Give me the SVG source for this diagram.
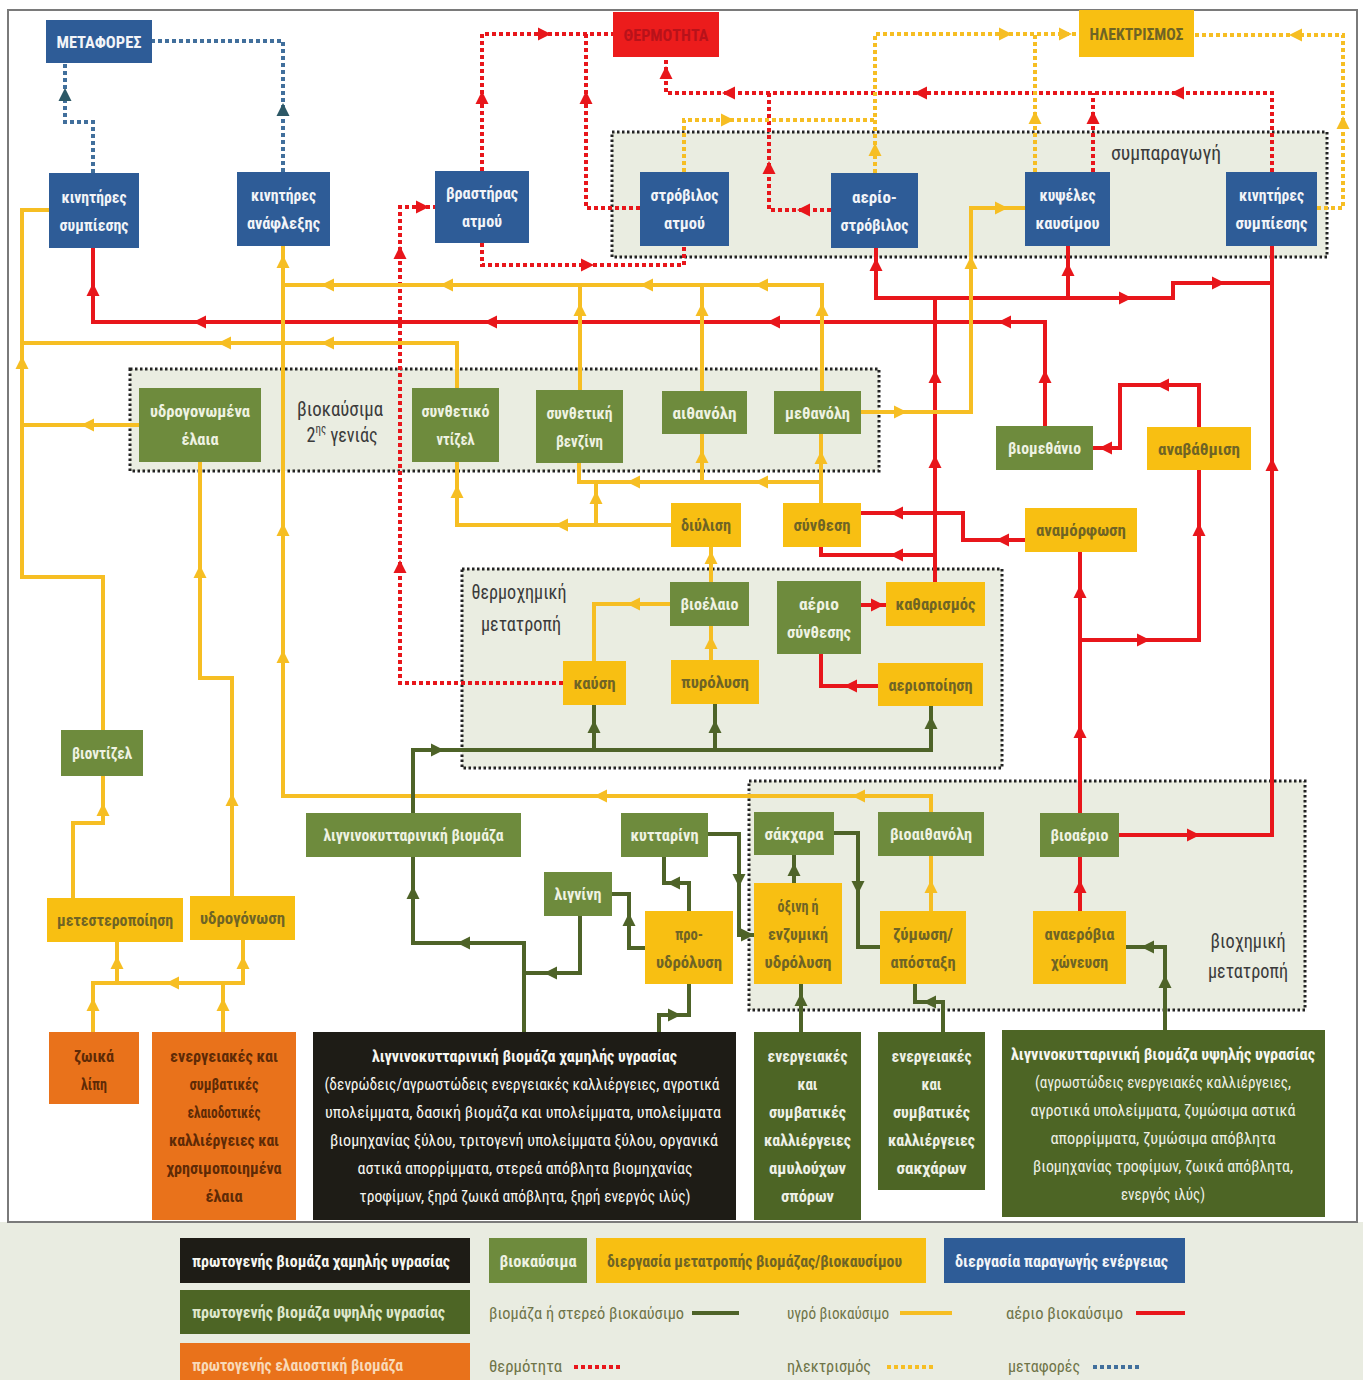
<svg xmlns="http://www.w3.org/2000/svg" xmlns:xlink="http://www.w3.org/1999/xlink" width="1363" height="1380" viewBox="0 0 1363 1380">
<defs>
<style>
text{font-family:"Liberation Sans Narrow","Roboto Condensed","DejaVu Sans Condensed","Liberation Sans",sans-serif;font-size:17px;text-anchor:middle;font-weight:bold}
.st{text-anchor:start}
.nb{fill:#2e5c97}.ny{fill:#f8bf12}.ng{fill:#6e8b3d}.nr{fill:#ec1c1c}.no{fill:#e9721b}.nk{fill:#1e1c16}.nd{fill:#4d6525}
.tb{fill:#f2f4f8}.tg{fill:#eef2e2}.ty{fill:#6f6425}.tr{fill:#b8121a}.to{fill:#5e2a06}.tw{fill:#f6f6f0}.tl{fill:#3b3b3b;font-weight:normal;font-size:20px}
.tk{fill:#f6f6f0;font-weight:normal}.tdg{fill:#eef0e6;font-weight:normal}.tdb{fill:#eef0e6;font-weight:bold}
.tleg{fill:#6f7448;font-weight:normal}
.grp{fill:#eaede1;stroke:#222;stroke-width:3;stroke-dasharray:2.5 2.5}
.r{stroke:#e8161b;stroke-width:4;fill:none}
.y{stroke:#f6be23;stroke-width:4;fill:none}
.g{stroke:#4e6328;stroke-width:4;fill:none}
.rd{stroke:#e8161b;stroke-width:4;fill:none;stroke-dasharray:4 3}
.yd{stroke:#f6be23;stroke-width:4;fill:none;stroke-dasharray:4 3}
.bd{stroke:#416f9c;stroke-width:4;fill:none;stroke-dasharray:4 3}
.fr{fill:#e8161b}.fy{fill:#f6be23}.fg{fill:#4e6328}.fb{fill:#2c5866}
</style>
<path id="a" d="M7,0 L-6,-6.5 L-6,6.5 Z"/>
</defs>

<rect x="0" y="0" width="1363" height="1380" fill="#ffffff"/>
<rect x="0" y="1222" width="1363" height="158" fill="#e9ece1"/>
<rect x="8" y="10" width="1349" height="1212" fill="#ffffff" stroke="#7a7a7a" stroke-width="2"/>

<g id="groups">
<g id="g-sympar"><rect class="grp" x="612" y="132" width="715" height="125"/><text class="tl" x="1166" y="160" textLength="110" lengthAdjust="spacingAndGlyphs">συμπαραγωγή</text></g>
<g id="g-biofuel2"><rect class="grp" x="130" y="369" width="749" height="102"/><text class="tl" x="340" y="416" font-size="22" textLength="86" lengthAdjust="spacingAndGlyphs">βιοκαύσιμα</text><text class="tl" x="342" y="442" font-size="22" textLength="71" lengthAdjust="spacingAndGlyphs">2<tspan font-size="12" dy="-9">ης</tspan><tspan dy="9"> γενιάς</tspan></text></g>
<g id="g-thermo"><rect class="grp" x="462" y="569" width="540" height="199"/><text class="tl" x="519" y="599" textLength="95" lengthAdjust="spacingAndGlyphs">θερμοχημική</text><text class="tl" x="521" y="631" textLength="80" lengthAdjust="spacingAndGlyphs">μετατροπή</text></g>
<g id="g-bio"><rect class="grp" x="749" y="781" width="556" height="229"/><text class="tl" x="1248" y="948" textLength="75" lengthAdjust="spacingAndGlyphs">βιοχημική</text><text class="tl" x="1248" y="978" textLength="80" lengthAdjust="spacingAndGlyphs">μετατροπή</text></g>
</g>

<g id="connectors">
<path class="bd" d="M283,172 V41 H152"/>
<path class="bd" d="M93,173 V122 H65 V63"/>
<path class="rd" d="M482,171 V34 H613"/>
<path class="rd" d="M640,208 H586 V34"/>
<path class="rd" d="M482,243 V265 H684 V246"/>
<path class="rd" d="M1272,172 V93 H666 V57"/>
<path class="rd" d="M1093,172 V93"/>
<path class="rd" d="M831,210 H769 V93"/>
<path class="rd" d="M563,683 H400 V207 H435"/>
<path class="yd" d="M875,173 V34 H1079"/>
<path class="yd" d="M1035,172 V34"/>
<path class="yd" d="M684,172 V120 H875"/>
<path class="yd" d="M1317,208 H1343 V35 H1194"/>
<path class="r" d="M935,582 V298 H876 V248"/>
<path class="r" d="M935,298 H1173 V283 H1272"/>
<path class="r" d="M1068,298 V246"/>
<path class="r" d="M1045,426 V322 H93 V248"/>
<path class="r" d="M1080,813 V552"/>
<path class="r" d="M1080,640 H1199 V470"/>
<path class="r" d="M1199,427 V385 H1120 V448 H1093"/>
<path class="r" d="M1025,540 H963 V513 H861"/>
<path class="r" d="M935,555 H821 V547"/>
<path class="r" d="M861,605 H886"/>
<path class="r" d="M878,686 H821 V654"/>
<path class="r" d="M1080,911 V857"/>
<path class="r" d="M1119,835 H1272 V246"/>
<path class="y" d="M822,391 V285 H283"/>
<path class="y" d="M580,390 V285"/>
<path class="y" d="M702,391 V285"/>
<path class="y" d="M283,246 V796 H931 V812"/>
<path class="y" d="M457,388 V343 H22"/>
<path class="y" d="M49,210 H22 V577 H103 V730"/>
<path class="y" d="M139,425 H22"/>
<path class="y" d="M200,462 V678 H232 V896"/>
<path class="y" d="M73,898 V823 H103 V776"/>
<path class="y" d="M93,1032 V983 H243 V940"/>
<path class="y" d="M117,983 V942"/>
<path class="y" d="M223,1032 V983"/>
<path class="y" d="M861,412 H971 V208 H1025"/>
<path class="y" d="M821,503 V434"/>
<path class="y" d="M821,482 H579 V463"/>
<path class="y" d="M596,525 V482"/>
<path class="y" d="M702,482 V434"/>
<path class="y" d="M671,525 H457 V462"/>
<path class="y" d="M711,582 V547"/>
<path class="y" d="M670,604 H594 V661"/>
<path class="y" d="M711,660 V626"/>
<path class="y" d="M931,911 V856"/>
<path class="g" d="M524,1032 V943 H413 V750 H931 V706"/>
<path class="g" d="M594,750 V705"/>
<path class="g" d="M715,750 V704"/>
<path class="g" d="M580,916 V973 H524"/>
<path class="g" d="M645,948 H629 V894 H612"/>
<path class="g" d="M689,911 V883 H664 V857"/>
<path class="g" d="M708,834 H739 V935 H754"/>
<path class="g" d="M794,883 V855"/>
<path class="g" d="M834,833 H858 V947 H880"/>
<path class="g" d="M801,1032 V984"/>
<path class="g" d="M943,1032 V1002 H915 V984"/>
<path class="g" d="M1165,1030 V947 H1126"/>
<path class="g" d="M659,1032 V1015 H689 V984"/>

<use href="#a" class="fb" transform="translate(283,110) rotate(-90)"/>
<use href="#a" class="fb" transform="translate(65,95) rotate(-90)"/>
<use href="#a" class="fr" transform="translate(482,98) rotate(-90)"/>
<use href="#a" class="fr" transform="translate(544,34)"/>
<use href="#a" class="fr" transform="translate(586,98) rotate(-90)"/>
<use href="#a" class="fr" transform="translate(587,265)"/>
<use href="#a" class="fr" transform="translate(1178,93) rotate(180)"/>
<use href="#a" class="fr" transform="translate(921,93) rotate(180)"/>
<use href="#a" class="fr" transform="translate(729,93) rotate(180)"/>
<use href="#a" class="fr" transform="translate(666,73) rotate(-90)"/>
<use href="#a" class="fr" transform="translate(1093,118) rotate(-90)"/>
<use href="#a" class="fr" transform="translate(804,210) rotate(180)"/>
<use href="#a" class="fr" transform="translate(769,168) rotate(-90)"/>
<use href="#a" class="fr" transform="translate(400,567) rotate(-90)"/>
<use href="#a" class="fr" transform="translate(400,253) rotate(-90)"/>
<use href="#a" class="fr" transform="translate(422,207)"/>
<use href="#a" class="fy" transform="translate(875,150) rotate(-90)"/>
<use href="#a" class="fy" transform="translate(1005,34)"/>
<use href="#a" class="fy" transform="translate(1065,34)"/>
<use href="#a" class="fy" transform="translate(1035,118) rotate(-90)"/>
<use href="#a" class="fy" transform="translate(727,120)"/>
<use href="#a" class="fy" transform="translate(1343,123) rotate(-90)"/>
<use href="#a" class="fy" transform="translate(1296,35) rotate(180)"/>
<use href="#a" class="fr" transform="translate(935,462) rotate(-90)"/>
<use href="#a" class="fr" transform="translate(935,377) rotate(-90)"/>
<use href="#a" class="fr" transform="translate(876,265) rotate(-90)"/>
<use href="#a" class="fr" transform="translate(1125,298)"/>
<use href="#a" class="fr" transform="translate(1218,283)"/>
<use href="#a" class="fr" transform="translate(1068,270) rotate(-90)"/>
<use href="#a" class="fr" transform="translate(1045,377) rotate(-90)"/>
<use href="#a" class="fr" transform="translate(1005,322) rotate(180)"/>
<use href="#a" class="fr" transform="translate(774,322) rotate(180)"/>
<use href="#a" class="fr" transform="translate(491,322) rotate(180)"/>
<use href="#a" class="fr" transform="translate(200,322) rotate(180)"/>
<use href="#a" class="fr" transform="translate(93,290) rotate(-90)"/>
<use href="#a" class="fr" transform="translate(1080,732) rotate(-90)"/>
<use href="#a" class="fr" transform="translate(1080,592) rotate(-90)"/>
<use href="#a" class="fr" transform="translate(1143,640)"/>
<use href="#a" class="fr" transform="translate(1199,530) rotate(-90)"/>
<use href="#a" class="fr" transform="translate(1163,385) rotate(180)"/>
<use href="#a" class="fr" transform="translate(1106,448) rotate(180)"/>
<use href="#a" class="fr" transform="translate(1003,540) rotate(180)"/>
<use href="#a" class="fr" transform="translate(897,513) rotate(180)"/>
<use href="#a" class="fr" transform="translate(897,555) rotate(180)"/>
<use href="#a" class="fr" transform="translate(877,605)"/>
<use href="#a" class="fr" transform="translate(851,686) rotate(180)"/>
<use href="#a" class="fr" transform="translate(1080,887) rotate(-90)"/>
<use href="#a" class="fr" transform="translate(1193,835)"/>
<use href="#a" class="fr" transform="translate(1272,465) rotate(-90)"/>
<use href="#a" class="fy" transform="translate(762,285) rotate(180)"/>
<use href="#a" class="fy" transform="translate(647,285) rotate(180)"/>
<use href="#a" class="fy" transform="translate(447,285) rotate(180)"/>
<use href="#a" class="fy" transform="translate(328,285) rotate(180)"/>
<use href="#a" class="fy" transform="translate(822,310) rotate(-90)"/>
<use href="#a" class="fy" transform="translate(580,310) rotate(-90)"/>
<use href="#a" class="fy" transform="translate(702,310) rotate(-90)"/>
<use href="#a" class="fy" transform="translate(283,262) rotate(-90)"/>
<use href="#a" class="fy" transform="translate(283,530) rotate(-90)"/>
<use href="#a" class="fy" transform="translate(283,657) rotate(-90)"/>
<use href="#a" class="fy" transform="translate(601,796) rotate(180)"/>
<use href="#a" class="fy" transform="translate(859,796) rotate(180)"/>
<use href="#a" class="fy" transform="translate(328,343) rotate(180)"/>
<use href="#a" class="fy" transform="translate(225,343) rotate(180)"/>
<use href="#a" class="fy" transform="translate(22,363) rotate(-90)"/>
<use href="#a" class="fy" transform="translate(88,425) rotate(180)"/>
<use href="#a" class="fy" transform="translate(200,572) rotate(-90)"/>
<use href="#a" class="fy" transform="translate(232,800) rotate(-90)"/>
<use href="#a" class="fy" transform="translate(103,810) rotate(-90)"/>
<use href="#a" class="fy" transform="translate(93,1005) rotate(-90)"/>
<use href="#a" class="fy" transform="translate(173,983) rotate(180)"/>
<use href="#a" class="fy" transform="translate(243,963) rotate(-90)"/>
<use href="#a" class="fy" transform="translate(117,963) rotate(-90)"/>
<use href="#a" class="fy" transform="translate(223,1005) rotate(-90)"/>
<use href="#a" class="fy" transform="translate(900,412)"/>
<use href="#a" class="fy" transform="translate(971,263) rotate(-90)"/>
<use href="#a" class="fy" transform="translate(1001,208)"/>
<use href="#a" class="fy" transform="translate(821,458) rotate(-90)"/>
<use href="#a" class="fy" transform="translate(762,482) rotate(180)"/>
<use href="#a" class="fy" transform="translate(634,482) rotate(180)"/>
<use href="#a" class="fy" transform="translate(596,498) rotate(-90)"/>
<use href="#a" class="fy" transform="translate(702,457) rotate(-90)"/>
<use href="#a" class="fy" transform="translate(562,525) rotate(180)"/>
<use href="#a" class="fy" transform="translate(457,492) rotate(-90)"/>
<use href="#a" class="fy" transform="translate(711,558) rotate(-90)"/>
<use href="#a" class="fy" transform="translate(634,604) rotate(180)"/>
<use href="#a" class="fy" transform="translate(711,643) rotate(-90)"/>
<use href="#a" class="fy" transform="translate(931,887) rotate(-90)"/>
<use href="#a" class="fg" transform="translate(464,943) rotate(180)"/>
<use href="#a" class="fg" transform="translate(413,893) rotate(-90)"/>
<use href="#a" class="fg" transform="translate(437,750)"/>
<use href="#a" class="fg" transform="translate(931,723) rotate(-90)"/>
<use href="#a" class="fg" transform="translate(594,727) rotate(-90)"/>
<use href="#a" class="fg" transform="translate(715,727) rotate(-90)"/>
<use href="#a" class="fg" transform="translate(551,973) rotate(180)"/>
<use href="#a" class="fg" transform="translate(629,920) rotate(-90)"/>
<use href="#a" class="fg" transform="translate(674,883) rotate(180)"/>
<use href="#a" class="fg" transform="translate(739,880) rotate(90)"/>
<use href="#a" class="fg" transform="translate(747,935)"/>
<use href="#a" class="fg" transform="translate(794,870) rotate(-90)"/>
<use href="#a" class="fg" transform="translate(858,887) rotate(90)"/>
<use href="#a" class="fg" transform="translate(801,1000) rotate(-90)"/>
<use href="#a" class="fg" transform="translate(930,1002) rotate(180)"/>
<use href="#a" class="fg" transform="translate(1165,982) rotate(-90)"/>
<use href="#a" class="fg" transform="translate(1148,947) rotate(180)"/>
<use href="#a" class="fg" transform="translate(674,1015)"/>
</g>

<g id="nodes">
<g id="n-metafores"><rect class="nb" x="46" y="20" width="106" height="43"/><text class="tb" x="99" y="48" textLength="85" lengthAdjust="spacingAndGlyphs">ΜΕΤΑΦΟΡΕΣ</text></g>
<g id="n-thermotita"><rect class="nr" x="613" y="12" width="106" height="45"/><text class="tr" x="666" y="41" textLength="85" lengthAdjust="spacingAndGlyphs">ΘΕΡΜΟΤΗΤΑ</text></g>
<g id="n-ilektrismos"><rect class="ny" x="1079" y="10" width="115" height="47"/><text class="ty" x="1136.5" y="40" textLength="94" lengthAdjust="spacingAndGlyphs">ΗΛΕΚΤΡΙΣΜΟΣ</text></g>
<g id="n-kin-symp-l"><rect class="nb" x="49" y="173" width="90" height="75"/><text class="tb" x="94" y="202.5" textLength="65" lengthAdjust="spacingAndGlyphs">κινητήρες</text><text class="tb" x="94" y="230.5" textLength="69" lengthAdjust="spacingAndGlyphs">συμπίεσης</text></g>
<g id="n-kin-anafl"><rect class="nb" x="237" y="172" width="93" height="74"/><text class="tb" x="283.5" y="201" textLength="65" lengthAdjust="spacingAndGlyphs">κινητήρες</text><text class="tb" x="283.5" y="229" textLength="73" lengthAdjust="spacingAndGlyphs">ανάφλεξης</text></g>
<g id="n-vrastiras"><rect class="nb" x="435" y="171" width="94" height="72"/><text class="tb" x="482" y="199" textLength="72" lengthAdjust="spacingAndGlyphs">βραστήρας</text><text class="tb" x="482" y="227" textLength="40" lengthAdjust="spacingAndGlyphs">ατμού</text></g>
<g id="n-strovilos"><rect class="nb" x="640" y="172" width="89" height="74"/><text class="tb" x="684.5" y="201" textLength="68" lengthAdjust="spacingAndGlyphs">στρόβιλος</text><text class="tb" x="684.5" y="229" textLength="41" lengthAdjust="spacingAndGlyphs">ατμού</text></g>
<g id="n-aerio-strovilos"><rect class="nb" x="831" y="173" width="87" height="75"/><text class="tb" x="874.5" y="202.5" textLength="45" lengthAdjust="spacingAndGlyphs">αερίο-</text><text class="tb" x="874.5" y="230.5" textLength="68" lengthAdjust="spacingAndGlyphs">στρόβιλος</text></g>
<g id="n-kypseles"><rect class="nb" x="1025" y="172" width="85" height="74"/><text class="tb" x="1067.5" y="201" textLength="56" lengthAdjust="spacingAndGlyphs">κυψέλες</text><text class="tb" x="1067.5" y="229" textLength="64" lengthAdjust="spacingAndGlyphs">καυσίμου</text></g>
<g id="n-kin-symp-r"><rect class="nb" x="1226" y="172" width="91" height="74"/><text class="tb" x="1271.5" y="201" textLength="65" lengthAdjust="spacingAndGlyphs">κινητήρες</text><text class="tb" x="1271.5" y="229" textLength="72" lengthAdjust="spacingAndGlyphs">συμπίεσης</text></g>
<g id="n-ydrogon-elaia"><rect class="ng" x="139" y="388" width="122" height="74"/><text class="tg" x="200" y="417" textLength="100" lengthAdjust="spacingAndGlyphs">υδρογονωμένα</text><text class="tg" x="200" y="445" textLength="37" lengthAdjust="spacingAndGlyphs">έλαια</text></g>
<g id="n-synth-diesel"><rect class="ng" x="412" y="388" width="87" height="74"/><text class="tg" x="455.5" y="417" textLength="68" lengthAdjust="spacingAndGlyphs">συνθετικό</text><text class="tg" x="455.5" y="445" textLength="38" lengthAdjust="spacingAndGlyphs">ντίζελ</text></g>
<g id="n-synth-venzini"><rect class="ng" x="536" y="390" width="87" height="73"/><text class="tg" x="579.5" y="418.5" textLength="66" lengthAdjust="spacingAndGlyphs">συνθετική</text><text class="tg" x="579.5" y="446.5" textLength="47" lengthAdjust="spacingAndGlyphs">βενζίνη</text></g>
<g id="n-aithanoli"><rect class="ng" x="662" y="391" width="85" height="43"/><text class="tg" x="704.5" y="418.5" textLength="64" lengthAdjust="spacingAndGlyphs">αιθανόλη</text></g>
<g id="n-methanoli"><rect class="ng" x="774" y="391" width="87" height="43"/><text class="tg" x="817.5" y="418.5" textLength="65" lengthAdjust="spacingAndGlyphs">μεθανόλη</text></g>
<g id="n-dylisi"><rect class="ny" x="671" y="503" width="70" height="44"/><text class="ty" x="706" y="531" textLength="50" lengthAdjust="spacingAndGlyphs">διύλιση</text></g>
<g id="n-synthesi"><rect class="ny" x="783" y="503" width="78" height="44"/><text class="ty" x="822" y="531" textLength="57" lengthAdjust="spacingAndGlyphs">σύνθεση</text></g>
<g id="n-vioelaio"><rect class="ng" x="670" y="582" width="79" height="44"/><text class="tg" x="709.5" y="610" textLength="58" lengthAdjust="spacingAndGlyphs">βιοέλαιο</text></g>
<g id="n-aerio-synth"><rect class="ng" x="777" y="581" width="84" height="73"/><text class="tg" x="819" y="609.5" textLength="40" lengthAdjust="spacingAndGlyphs">αέριο</text><text class="tg" x="819" y="637.5" textLength="64" lengthAdjust="spacingAndGlyphs">σύνθεσης</text></g>
<g id="n-katharismos"><rect class="ny" x="886" y="582" width="99" height="44"/><text class="ty" x="935.5" y="610" textLength="80" lengthAdjust="spacingAndGlyphs">καθαρισμός</text></g>
<g id="n-aeriopoiisi"><rect class="ny" x="878" y="663" width="105" height="43"/><text class="ty" x="930.5" y="690.5" textLength="84" lengthAdjust="spacingAndGlyphs">αεριοποίηση</text></g>
<g id="n-kafsi"><rect class="ny" x="563" y="661" width="63" height="44"/><text class="ty" x="594.5" y="689" textLength="42" lengthAdjust="spacingAndGlyphs">καύση</text></g>
<g id="n-pyrolysi"><rect class="ny" x="671" y="660" width="88" height="44"/><text class="ty" x="715" y="688" textLength="68" lengthAdjust="spacingAndGlyphs">πυρόλυση</text></g>
<g id="n-viomethanio"><rect class="ng" x="996" y="426" width="97" height="44"/><text class="tg" x="1044.5" y="454" textLength="73" lengthAdjust="spacingAndGlyphs">βιομεθάνιο</text></g>
<g id="n-anavathmisi"><rect class="ny" x="1147" y="427" width="104" height="43"/><text class="ty" x="1199" y="454.5" textLength="82" lengthAdjust="spacingAndGlyphs">αναβάθμιση</text></g>
<g id="n-anamorfosi"><rect class="ny" x="1025" y="508" width="112" height="44"/><text class="ty" x="1081" y="536" textLength="90" lengthAdjust="spacingAndGlyphs">αναμόρφωση</text></g>
<g id="n-viodiesel"><rect class="ng" x="61" y="730" width="82" height="46"/><text class="tg" x="102" y="759" textLength="60" lengthAdjust="spacingAndGlyphs">βιοντίζελ</text></g>
<g id="n-metester"><rect class="ny" x="47" y="898" width="136" height="44"/><text class="ty" x="115" y="926" textLength="116" lengthAdjust="spacingAndGlyphs">μετεστεροποίηση</text></g>
<g id="n-ydrogonosi"><rect class="ny" x="190" y="896" width="105" height="44"/><text class="ty" x="242.5" y="924" textLength="85" lengthAdjust="spacingAndGlyphs">υδρογόνωση</text></g>
<g id="n-lignocell"><rect class="ng" x="306" y="813" width="215" height="44"/><text class="tg" x="413.5" y="841" textLength="180" lengthAdjust="spacingAndGlyphs">λιγνινοκυτταρινική βιομάζα</text></g>
<g id="n-lignini"><rect class="ng" x="544" y="872" width="68" height="44"/><text class="tg" x="578" y="900" textLength="47" lengthAdjust="spacingAndGlyphs">λιγνίνη</text></g>
<g id="n-kyttarini"><rect class="ng" x="621" y="813" width="87" height="44"/><text class="tg" x="664.5" y="841" textLength="68" lengthAdjust="spacingAndGlyphs">κυτταρίνη</text></g>
<g id="n-proydrolysi"><rect class="ny" x="645" y="911" width="88" height="73"/><text class="ty" x="689" y="939.5" textLength="28" lengthAdjust="spacingAndGlyphs">προ-</text><text class="ty" x="689" y="967.5" textLength="66" lengthAdjust="spacingAndGlyphs">υδρόλυση</text></g>
<g id="n-sakchara"><rect class="ng" x="754" y="812" width="80" height="43"/><text class="tg" x="794" y="839.5" textLength="59" lengthAdjust="spacingAndGlyphs">σάκχαρα</text></g>
<g id="n-oxini"><rect class="ny" x="754" y="883" width="88" height="101"/><text class="ty" x="798" y="912" textLength="41" lengthAdjust="spacingAndGlyphs">όξινη ή</text><text class="ty" x="798" y="940" textLength="60" lengthAdjust="spacingAndGlyphs">ενζυμική</text><text class="ty" x="798" y="968" textLength="67" lengthAdjust="spacingAndGlyphs">υδρόλυση</text></g>
<g id="n-vioaithanoli"><rect class="ng" x="878" y="812" width="106" height="44"/><text class="tg" x="931" y="840" textLength="82" lengthAdjust="spacingAndGlyphs">βιοαιθανόλη</text></g>
<g id="n-zymosi"><rect class="ny" x="880" y="911" width="86" height="73"/><text class="ty" x="923" y="939.5" textLength="60" lengthAdjust="spacingAndGlyphs">ζύμωση/</text><text class="ty" x="923" y="967.5" textLength="65" lengthAdjust="spacingAndGlyphs">απόσταξη</text></g>
<g id="n-vioaerio"><rect class="ng" x="1040" y="813" width="79" height="44"/><text class="tg" x="1079.5" y="841" textLength="58" lengthAdjust="spacingAndGlyphs">βιοαέριο</text></g>
<g id="n-anaerovia"><rect class="ny" x="1033" y="911" width="93" height="73"/><text class="ty" x="1079.5" y="939.5" textLength="70" lengthAdjust="spacingAndGlyphs">αναερόβια</text><text class="ty" x="1079.5" y="967.5" textLength="57" lengthAdjust="spacingAndGlyphs">χώνευση</text></g>
<g id="n-zoika-lipi"><rect class="no" x="49" y="1032" width="90" height="72"/><text class="to" x="94" y="1062" textLength="40" lengthAdjust="spacingAndGlyphs">ζωικά</text><text class="to" x="94" y="1090" textLength="26" lengthAdjust="spacingAndGlyphs">λίπη</text></g>
<g id="n-elaiodotikes"><rect class="no" x="152" y="1032" width="144" height="188"/>
<text class="to" x="224" y="1062" textLength="108" lengthAdjust="spacingAndGlyphs">ενεργειακές και</text>
<text class="to" x="224" y="1090" textLength="69" lengthAdjust="spacingAndGlyphs">συμβατικές</text>
<text class="to" x="224" y="1118" textLength="73" lengthAdjust="spacingAndGlyphs">ελαιοδοτικές</text>
<text class="to" x="224" y="1146" textLength="110" lengthAdjust="spacingAndGlyphs">καλλιέργειες και</text>
<text class="to" x="224" y="1174" textLength="115" lengthAdjust="spacingAndGlyphs">χρησιμοποιημένα</text>
<text class="to" x="224" y="1202" textLength="37" lengthAdjust="spacingAndGlyphs">έλαια</text></g>
<g id="n-low-moisture"><rect class="nk" x="313" y="1032" width="423" height="188"/>
<text class="tw" x="524.5" y="1062" textLength="305" lengthAdjust="spacingAndGlyphs">λιγνινοκυτταρινική βιομάζα χαμηλής υγρασίας</text>
<text class="tk" x="522" y="1090" textLength="395" lengthAdjust="spacingAndGlyphs">(δενρώδεις/αγρωστώδεις ενεργειακές καλλιέργειες, αγροτικά</text>
<text class="tk" x="523" y="1118" textLength="396" lengthAdjust="spacingAndGlyphs">υπολείμματα, δασική βιομάζα και υπολείμματα, υπολείμματα</text>
<text class="tk" x="524" y="1146" textLength="388" lengthAdjust="spacingAndGlyphs">βιομηχανίας ξύλου, τριτογενή υπολείμματα ξύλου, οργανικά</text>
<text class="tk" x="525" y="1174" textLength="335" lengthAdjust="spacingAndGlyphs">αστικά απορρίμματα, στερεά απόβλητα βιομηχανίας</text>
<text class="tk" x="525" y="1202" textLength="331" lengthAdjust="spacingAndGlyphs">τροφίμων, ξηρά ζωικά απόβλητα, ξηρή ενεργός ιλύς)</text></g>
<g id="n-amyloucha"><rect class="nd" x="754" y="1032" width="107" height="188"/>
<text class="tdb" x="807.5" y="1062" textLength="80" lengthAdjust="spacingAndGlyphs">ενεργειακές</text>
<text class="tdb" x="807.5" y="1090" textLength="20" lengthAdjust="spacingAndGlyphs">και</text>
<text class="tdb" x="807.5" y="1118" textLength="77" lengthAdjust="spacingAndGlyphs">συμβατικές</text>
<text class="tdb" x="807.5" y="1146" textLength="87" lengthAdjust="spacingAndGlyphs">καλλιέργειες</text>
<text class="tdb" x="807.5" y="1174" textLength="77" lengthAdjust="spacingAndGlyphs">αμυλούχων</text>
<text class="tdb" x="807.5" y="1202" textLength="53" lengthAdjust="spacingAndGlyphs">σπόρων</text></g>
<g id="n-sakcharon"><rect class="nd" x="878" y="1032" width="107" height="158"/>
<text class="tdb" x="931.5" y="1062" textLength="80" lengthAdjust="spacingAndGlyphs">ενεργειακές</text>
<text class="tdb" x="931.5" y="1090" textLength="20" lengthAdjust="spacingAndGlyphs">και</text>
<text class="tdb" x="931.5" y="1118" textLength="77" lengthAdjust="spacingAndGlyphs">συμβατικές</text>
<text class="tdb" x="931.5" y="1146" textLength="87" lengthAdjust="spacingAndGlyphs">καλλιέργειες</text>
<text class="tdb" x="931.5" y="1174" textLength="70" lengthAdjust="spacingAndGlyphs">σακχάρων</text></g>
<g id="n-high-moisture"><rect class="nd" x="1002" y="1030" width="323" height="187"/>
<text class="tw" x="1163" y="1060" textLength="304" lengthAdjust="spacingAndGlyphs">λιγνινοκυτταρινική βιομάζα υψηλής υγρασίας</text>
<text class="tdg" x="1163" y="1088" textLength="256" lengthAdjust="spacingAndGlyphs">(αγρωστώδεις ενεργειακές καλλιέργειες,</text>
<text class="tdg" x="1163" y="1116" textLength="265" lengthAdjust="spacingAndGlyphs">αγροτικά υπολείμματα, ζυμώσιμα αστικά</text>
<text class="tdg" x="1163" y="1144" textLength="225" lengthAdjust="spacingAndGlyphs">απορρίμματα, ζυμώσιμα απόβλητα</text>
<text class="tdg" x="1163" y="1172" textLength="260" lengthAdjust="spacingAndGlyphs">βιομηχανίας τροφίμων, ζωικά απόβλητα,</text>
<text class="tdg" x="1163" y="1200" textLength="84" lengthAdjust="spacingAndGlyphs">ενεργός ιλύς)</text></g>
</g>

<g id="legend">
<rect class="nk" x="180" y="1238" width="290" height="45"/>
<text class="tw st" x="192" y="1267" textLength="258" lengthAdjust="spacingAndGlyphs">πρωτογενής βιομάζα χαμηλής υγρασίας</text>
<rect class="nd" x="180" y="1290" width="290" height="44"/>
<text class="st" x="192" y="1318" fill="#dfe7cc" textLength="253" lengthAdjust="spacingAndGlyphs">πρωτογενής βιομάζα υψηλής υγρασίας</text>
<rect class="no" x="180" y="1343" width="290" height="37"/>
<text class="st" x="192" y="1371" fill="#f8d9b8" textLength="211" lengthAdjust="spacingAndGlyphs">πρωτογενής ελαιοστική  βιομάζα</text>
<rect class="ng" x="489" y="1238" width="98" height="45"/>
<text class="tg" x="538" y="1267" textLength="77" lengthAdjust="spacingAndGlyphs">βιοκαύσιμα</text>
<rect class="ny" x="596" y="1238" width="330" height="45"/>
<text class="ty st" x="607" y="1267" textLength="295" lengthAdjust="spacingAndGlyphs">διεργασία μετατροπής βιομάζας/βιοκαυσίμου</text>
<rect class="nb" x="944" y="1238" width="241" height="45"/>
<text class="tb st" x="955" y="1267" textLength="213" lengthAdjust="spacingAndGlyphs">διεργασία παραγωγής ενέργειας</text>
<text class="tleg st" x="489" y="1319" textLength="195" lengthAdjust="spacingAndGlyphs">βιομάζα ή στερεό βιοκαύσιμο</text>
<path class="g" d="M692,1313 H739" stroke-width="5"/>
<text class="tleg st" x="787" y="1319" textLength="102" lengthAdjust="spacingAndGlyphs">υγρό βιοκαύσιμο</text>
<path class="y" d="M900,1313 H952" stroke-width="5"/>
<text class="tleg st" x="1006" y="1319" textLength="117" lengthAdjust="spacingAndGlyphs">αέριο βιοκαύσιμο</text>
<path class="r" d="M1136,1313 H1185" stroke-width="5"/>
<text class="tleg st" x="489" y="1372" textLength="73" lengthAdjust="spacingAndGlyphs">θερμότητα</text>
<path class="rd" d="M574,1367 H621"/>
<text class="tleg st" x="787" y="1372" textLength="84" lengthAdjust="spacingAndGlyphs">ηλεκτρισμός</text>
<path class="yd" d="M887,1367 H935"/>
<text class="tleg st" x="1008" y="1372" textLength="72" lengthAdjust="spacingAndGlyphs">μεταφορές</text>
<path class="bd" d="M1093,1367 H1140"/>
</g>
</svg>
